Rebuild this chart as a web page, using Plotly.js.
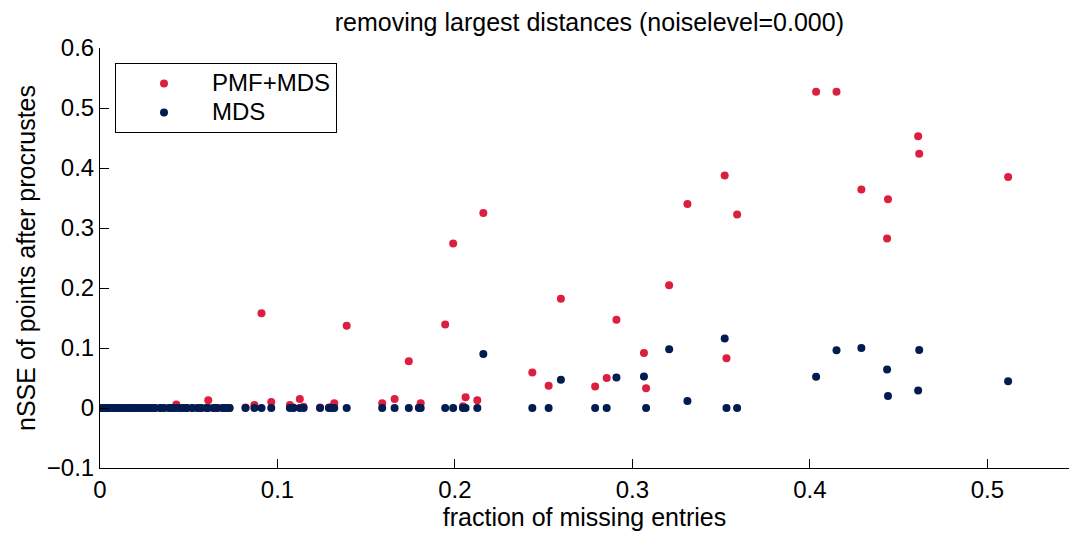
<!DOCTYPE html>
<html>
<head>
<meta charset="utf-8">
<script src="https://cdn.plot.ly/plotly-3.0.1.min.js"></script>
<style>
  html, body { margin: 0; padding: 0; background: #ffffff; overflow: hidden; }
  #chart { width: 1069px; height: 533px; }
</style>
</head>
<body>
<div id="chart"></div>
<script>
// fraction of missing entries (shared by both methods)
const fraction = [
  0.001, 0.003, 0.004, 0.006, 0.008, 0.009, 0.011, 0.013, 0.014, 0.016,
  0.018, 0.019, 0.021, 0.023, 0.025, 0.027, 0.029, 0.031, 0.034, 0.036,
  0.039, 0.041, 0.043, 0.045, 0.047, 0.049, 0.052, 0.055, 0.057, 0.060,
  0.061, 0.064, 0.066, 0.069, 0.071, 0.073,
  0.082, 0.087, 0.091, 0.0965, 0.107, 0.109, 0.1126, 0.1147, 0.124, 0.129,
  0.1307, 0.132, 0.139, 0.159, 0.166, 0.174, 0.1797, 0.1807, 0.1945, 0.199,
  0.2045, 0.206, 0.2126, 0.216,
  0.2436, 0.2528, 0.2597, 0.279, 0.2855, 0.291, 0.3065, 0.3077, 0.3207, 0.331,
  0.352, 0.353, 0.359, 0.4035, 0.415, 0.429, 0.4435, 0.444, 0.461, 0.4616,
  0.5117
];
// nSSE after procrustes, PMF+MDS
const nssePMF = [
  0, 0, 0, 0, 0, 0, 0, 0, 0, 0,
  0, 0, 0, 0, 0, 0, 0, 0, 0, 0,
  0, 0, 0.006, 0, 0, 0, 0, 0, 0, 0,
  0.013, 0, 0, 0, 0, 0,
  0.001, 0.005, 0.158, 0.010, 0.005, 0.001, 0.015, 0.002, 0.001, 0.001,
  0.002, 0.008, 0.137, 0.008, 0.015, 0.078, 0.001, 0.008, 0.139, 0.274,
  0.003, 0.018, 0.013, 0.325,
  0.059, 0.037, 0.182, 0.036, 0.050, 0.147, 0.0915, 0.033, 0.2045, 0.340,
  0.3875, 0.083, 0.3227, 0.527, 0.527, 0.364, 0.2826, 0.348, 0.453, 0.4236,
  0.385
];
// nSSE after procrustes, MDS
const nsseMDS = [
  0, 0, 0, 0, 0, 0, 0, 0, 0, 0,
  0, 0, 0, 0, 0, 0, 0, 0, 0, 0,
  0, 0, 0, 0, 0, 0, 0, 0, 0, 0,
  0, 0, 0, 0, 0, 0,
  0, 0, 0, 0, 0, 0, 0, 0, 0, 0,
  0, 0, 0, 0, 0, 0, 0, 0, 0, 0,
  0, 0, 0, 0.090,
  0, 0, 0.047, 0, 0, 0.0507, 0.0524, 0, 0.098, 0.0117,
  0.116, 0, 0, 0.052, 0.0964, 0.0998, 0.064, 0.020, 0.029, 0.0965,
  0.0446
];
const seriesNames = ["PMF+MDS", "MDS"];
const xTicks = [0, 0.1, 0.2, 0.3, 0.4, 0.5];
const yTicks = [-0.1, 0, 0.1, 0.2, 0.3, 0.4, 0.5, 0.6];

const FONT = "Liberation Sans, Arial, Helvetica, sans-serif";
const legendName = s => '<span style="font-size:24px">' + s + '</span>';

const traces = [
  {
    x: fraction, y: nssePMF, name: legendName(seriesNames[0]), type: "scatter", mode: "markers",
    marker: { color: "#dc1f3e", size: 8, line: { width: 0 } }
  },
  {
    x: fraction, y: nsseMDS, name: legendName(seriesNames[1]), type: "scatter", mode: "markers",
    marker: { color: "#001c50", size: 8, line: { width: 0 } }
  }
];

const axisCommon = {
  showline: true, linecolor: "#000000", linewidth: 1,
  ticks: "inside", ticklen: 9, tickcolor: "#000000", tickwidth: 1,
  showgrid: false, zeroline: false, mirror: false,
  tickfont: { family: FONT, size: 24, color: "#000000" }
};

const layout = {
  width: 1069, height: 533,
  paper_bgcolor: "#ffffff", plot_bgcolor: "#ffffff",
  margin: { l: 100, r: 0, t: 48, b: 65, pad: 0 },
  font: { family: FONT, size: 24, color: "#000000" },
  title: {
    text: "removing largest distances (noiselevel=0.000)",
    font: { family: FONT, size: 25, color: "#000000" },
    x: 0.505, xref: "paper", xanchor: "center",
    y: 0.958, yref: "container", yanchor: "middle"
  },
  xaxis: Object.assign({}, axisCommon, {
    range: [0, 0.546], tickvals: xTicks, ticktext: xTicks.map(String),
    title: { text: "fraction of missing entries", font: { family: FONT, size: 25, color: "#000000" }, standoff: 2 }
  }),
  yaxis: Object.assign({}, axisCommon, {
    range: [-0.1, 0.6], tickvals: yTicks,
    ticktext: yTicks.map(v => (v < 0 ? "\u2212" + String(-v) : String(v))),
    title: { text: "nSSE of points after procrustes", font: { family: FONT, size: 25, color: "#000000" }, standoff: 4 }
  }),
  showlegend: true,
  legend: {
    x: 0.0155, y: 0.964, xanchor: "left", yanchor: "top",
    bgcolor: "#ffffff", bordercolor: "#000000", borderwidth: 1,
    font: { family: FONT, size: 20, color: "#000000" },
    itemwidth: 86, tracegroupgap: 0
  }
};

Plotly.newPlot("chart", traces, layout, { displayModeBar: false, staticPlot: true });
</script>
</body>
</html>
